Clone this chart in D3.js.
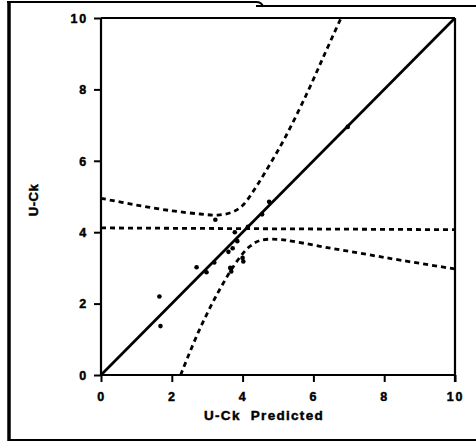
<!DOCTYPE html>
<html>
<head>
<meta charset="utf-8">
<script src="https://cdn.jsdelivr.net/npm/d3@7"></script>
<style>
  html, body { margin: 0; padding: 0; background: #fff; }
  svg { display: block; }
  text { font-family: "Liberation Sans", Arial, sans-serif; font-weight: bold; fill: #000; stroke: #000; stroke-width: 0.45px; }
</style>
</head>
<body>
<svg id="chart" width="476" height="446"></svg>
<script>
// ---- data ----
const xTicks = [0, 2, 4, 6, 8, 10];
const yTicks = [0, 2, 4, 6, 8, 10];
const xTitle = "U-Ck  Predicted";
const yTitle = "U-Ck";

const observed = [
  [1.65, 2.2], [1.68, 1.37], [2.7, 3.02], [2.98, 2.88], [3.2, 3.15],
  [3.23, 4.35], [3.6, 3.45], [3.65, 3.0], [3.68, 2.9], [3.72, 3.55],
  [3.78, 4.0], [3.85, 3.75], [4.0, 3.28], [4.02, 3.18], [4.15, 4.15],
  [4.55, 4.5], [4.75, 4.85], [6.97, 6.95]
];

const fitLine = [[0, 0], [10, 10]];
const meanLine = [[0, 4.12], [10, 4.07]];
const upperBand = [
  [0, 4.95], [1, 4.76], [2, 4.6], [2.8, 4.51], [3.3, 4.48], [3.7, 4.56],
  [4.0, 4.75], [4.4, 5.3], [4.8, 5.95], [5.2, 6.65], [5.8, 7.85],
  [6.3, 8.95], [6.78, 10]
];
const lowerBand = [
  [2.25, 0], [2.75, 1.2], [3.3, 2.3], [3.85, 3.2], [4.2, 3.6], [4.5, 3.77],
  [5.0, 3.8], [5.5, 3.73], [6.5, 3.55], [7.5, 3.38], [8.5, 3.21], [10, 2.97]
];

// ---- layout ----
const svg = d3.select("#chart");
const x = d3.scaleLinear().domain([0, 10]).range([101, 455]);
const y = d3.scaleLinear().domain([0, 10]).range([375, 18]);

// outer frame (cropped figure border)
svg.append("path")
  .attr("d", "M7,2 L256,2 Q262,2 263,7 M256,6 L476,6")
  .attr("fill", "none").attr("stroke", "#000").attr("stroke-width", 2);
svg.append("line").attr("x1", 9).attr("x2", 9).attr("y1", 2).attr("y2", 441)
  .attr("stroke", "#000").attr("stroke-width", 3.5);
svg.append("line").attr("x1", 8).attr("x2", 476).attr("y1", 440).attr("y2", 440)
  .attr("stroke", "#000").attr("stroke-width", 2);

// plot frame: top and right borders
svg.append("line").attr("x1", x(0)).attr("x2", x(10)).attr("y1", y(10)).attr("y2", y(10))
  .attr("stroke", "#000").attr("stroke-width", 2.2);
svg.append("line").attr("x1", x(10)).attr("x2", x(10)).attr("y1", y(10)).attr("y2", y(0) + 7)
  .attr("stroke", "#000").attr("stroke-width", 2.2);

// axes
const xAxis = d3.axisBottom(x).tickValues(xTicks).tickSize(7).tickPadding(8).tickFormat(d3.format("d"));
const yAxis = d3.axisLeft(y).tickValues(yTicks).tickSize(7).tickPadding(6).tickFormat(d3.format("d"));

const gx = svg.append("g").attr("transform", `translate(0,${y(0)})`).call(xAxis);
const gy = svg.append("g").attr("transform", `translate(${x(0)},0)`).call(yAxis);
[gx, gy].forEach(g => {
  g.select(".domain").attr("stroke", "#000").attr("stroke-width", 2.2);
  g.selectAll(".tick line").attr("stroke", "#000").attr("stroke-width", 2);
  g.selectAll(".tick text").style("font-size", "12.5px").style("letter-spacing", "1.8px")
    .style("font-family", "'Liberation Sans', Arial, sans-serif").style("font-weight", "bold");
});
gx.select(".domain").attr("d", `M${x(0)},0H${x(10)}`);
gy.select(".domain").attr("d", `M0,${y(0)}V${y(10)}`);
gy.selectAll(".tick text").attr("dy", "0.35em");
gx.selectAll(".tick text").attr("dy", "0.85em");

// titles
svg.append("text").attr("x", 264).attr("y", 420).attr("text-anchor", "middle")
  .style("font-size", "13.5px").style("letter-spacing", "1.3px").attr("xml:space", "preserve").text(xTitle);
svg.append("text").attr("transform", "translate(38,200) rotate(-90)").attr("text-anchor", "middle")
  .style("font-size", "13px").style("letter-spacing", "0.5px").text(yTitle);

// lines
const line = d3.line().x(d => x(d[0])).y(d => y(d[1]));
const smooth = d3.line().x(d => x(d[0])).y(d => y(d[1])).curve(d3.curveCatmullRom.alpha(0.5));

svg.append("path").datum(fitLine).attr("d", line)
  .attr("fill", "none").attr("stroke", "#000").attr("stroke-width", 2.7);

[meanLine, upperBand, lowerBand].forEach(data => {
  svg.append("path").datum(data).attr("d", data === meanLine ? line : smooth)
    .attr("fill", "none").attr("stroke", "#000").attr("stroke-width", 2.8)
    .attr("stroke-dasharray", "5,4");
});

// observed points
svg.append("g").selectAll("circle").data(observed).join("circle")
  .attr("cx", d => x(d[0])).attr("cy", d => y(d[1])).attr("r", 2.3).attr("fill", "#000");
</script>
</body>
</html>
